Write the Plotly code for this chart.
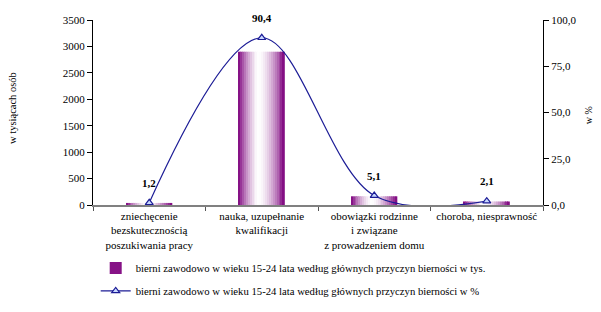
import plotly.graph_objects as go

categories = ["zniechęcenie<br>bezskutecznością<br>poszukiwania pracy",
              "nauka, uzupełnanie<br>kwalifikacji",
              "obowiązki rodzinne<br>i związane<br>z prowadzeniem domu",
              "choroba, niesprawność"]
values_thousands = [39, 2900, 165, 67]
values_percent = [1.2, 90.4, 5.1, 2.1]
name_bar = "bierni zawodowo w wieku 15-24 lata według głównych przyczyn bierności w tys."
name_line = "bierni zawodowo w wieku 15-24 lata według głównych przyczyn bierności w %"

FONT = "Liberation Serif, Times New Roman, DejaVu Serif, serif"
fig = go.Figure()

# gradient bars built from narrow slices
N = 24
BAR_W = 0.41
sw = BAR_W / N
purple = (125, 0, 125)
for i in range(N):
    t = (i + 0.5) / N
    center = 0.45
    d = abs(t - center) / (center if t < center else 1 - center)
    k = min(1.0, d ** 1.6)
    col = tuple(int(255 * (1 - k) + purple[j] * k) for j in range(3))
    fig.add_trace(go.Bar(
        x=categories, y=values_thousands, width=sw, offset=-BAR_W / 2 + i * sw,
        marker=dict(color="rgb(%d,%d,%d)" % col, line=dict(width=0)),
        name=name_bar, showlegend=(i == 0), legendgroup="b", hoverinfo="skip",
        yaxis="y"))

fig.add_trace(go.Scatter(
    x=categories, y=values_percent, yaxis="y2", mode="lines+markers",
    line=dict(color="#1c1c96", width=1.2, shape="spline", smoothing=1.0),
    marker=dict(symbol="triangle-up", size=7, color="#c8d8ff",
                line=dict(color="#1c1c96", width=1.2)),
    name=name_line, legendgroup="l", cliponaxis=False))

for c, v in zip(categories, values_percent):
    fig.add_annotation(x=c, y=v, yref="y2", yshift=20, showarrow=False,
                       text="<b>" + ("%.1f" % v).replace(".", ",") + "</b>",
                       font=dict(family=FONT, size=11, color="black"))

fig.add_annotation(xref="paper", yref="paper", x=-0.197, y=0.524, textangle=-90,
                   showarrow=False, text="w tysiącach osób",
                   font=dict(family=FONT, size=10.5, color="black"))
fig.add_annotation(xref="paper", yref="paper", x=1.117, y=0.486, textangle=-90,
                   showarrow=False, text="w %",
                   font=dict(family=FONT, size=10, color="black"))

fig.update_layout(
    width=593, height=304,
    margin=dict(l=85, r=58, t=12, b=107, autoexpand=False),
    paper_bgcolor="white", plot_bgcolor="white",
    separators=", ",
    barmode="overlay",
    font=dict(family=FONT, size=11, color="black"),
    xaxis=dict(type="category", tickson="boundaries", ticks="outside", ticklen=4,
               tickcolor="#555", showline=True, linecolor="#808080", linewidth=1.5,
               showgrid=False, automargin=False, tickfont=dict(family=FONT, size=11)),
    yaxis=dict(range=[0, 3500], dtick=500, tickformat="d", ticks="outside", ticklen=5,
               showline=True, linecolor="black", tickcolor="black", showgrid=False,
               zeroline=False, automargin=False, tickfont=dict(family=FONT, size=11)),
    yaxis2=dict(range=[0, 100], dtick=25, tickformat=".1f", ticks="outside", ticklen=5,
                overlaying="y", side="right", showline=True, linecolor="black",
                tickcolor="black", showgrid=False, zeroline=False, automargin=False,
                tickfont=dict(family=FONT, size=11)),
    legend=dict(x=0.006, y=-0.262, xanchor="left", yanchor="top",
                font=dict(family=FONT, size=10.7), traceorder="grouped",
                tracegroupgap=4, itemwidth=30, bgcolor="rgba(0,0,0,0)"),
)

fig.write_html("out.html")
